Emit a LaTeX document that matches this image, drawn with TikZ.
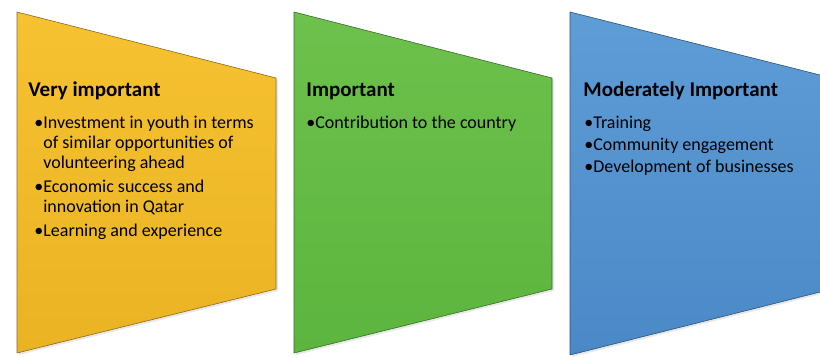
\documentclass[tikz,border=0pt]{standalone}
\usepackage{fontspec}
\setmainfont{Carlito}
\usetikzlibrary{shadows}

\definecolor{ylwtop}{HTML}{F7C231}
\definecolor{ylwbot}{HTML}{E9B323}
\definecolor{grntop}{HTML}{6DC14C}
\definecolor{grnbot}{HTML}{5CB53E}
\definecolor{blutop}{HTML}{5F9DD7}
\definecolor{blubot}{HTML}{4A88C7}

\tikzset{
	panel/.style={draw=#1!60!black, line width=0.3pt, line join=round,
		drop shadow={opacity=0.18, shadow xshift=1pt, shadow yshift=-1pt}},
	head/.style={anchor=base west, inner sep=0pt, font=\fontsize{10.5}{12}\selectfont\bfseries},
	items/.style={anchor=north west, inner sep=0pt, align=left, font=\fontsize{9}{10}\selectfont}
}

\begin{document}
\begin{tikzpicture}[x=0.5pt, y=-0.5pt]
		\useasboundingbox (0,0) rectangle (820,357);
		
		\shade[panel=ylwbot, top color=ylwtop, bottom color=ylwbot]
			(17,12) -- (276,78) -- (276,289) -- (17,353) -- cycle;
		\shade[panel=grnbot, top color=grntop, bottom color=grnbot]
			(294,12) -- (552,78) -- (552,289) -- (294,353) -- cycle;
		\shade[panel=blubot, top color=blutop, bottom color=blubot]
			(570,12) -- (832,78) -- (832,289) -- (570,355) -- cycle;
		
		% headings sit on y=97, first bullet line on y=128
		\node[head] (h1) at (28,97) {Very important};
		\node[items] (l1) at (34,114) {\strut\textbullet Investment in youth in terms\\
			\hphantom{\textbullet}of similar opportunities of\\
			\hphantom{\textbullet}volunteering ahead\\[2pt]
			\textbullet Economic success and\\
			\hphantom{\textbullet}innovation in Qatar\\[2pt]
			\textbullet Learning and experience};
		
		\node[head] (h2) at (306,97) {Important};
		\node[items] (l2) at (306,114) {\strut\textbullet Contribution to the country};
		
		\node[head] (h3) at (583,97) {Moderately Important};
		\node[items] (l3) at (584,114) {\strut\textbullet Training\\[1pt]
			\textbullet Community engagement\\[1pt]
			\textbullet Development of businesses};
\end{tikzpicture}
\end{document}
